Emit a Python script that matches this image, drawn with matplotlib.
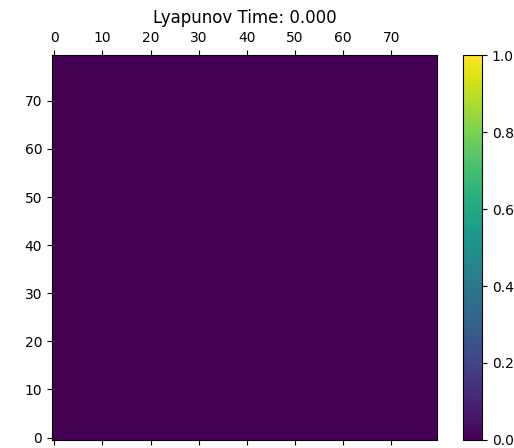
import numpy as np
import matplotlib
matplotlib.use("Agg")
import matplotlib.pyplot as plt

n_rows = 80
n_cols = 80
grid_value = 0.0
field = np.full((n_rows, n_cols), grid_value)
vmin, vmax = 0.0, 1.0
title = "Lyapunov Time: 0.000"

fig = plt.figure(figsize=(5.14, 4.48), dpi=100)
ax = fig.add_axes([0.101, 0.018, 0.749, 0.859])
im = ax.matshow(field, origin="lower", cmap="viridis", vmin=vmin, vmax=vmax, aspect="auto")
ax.set_xticks(np.arange(0, 80, 10))
ax.set_yticks(np.arange(0, 80, 10))
ax.tick_params(axis="x", top=True, bottom=True, labeltop=True, labelbottom=False)
ax.set_title(title)
cax = fig.add_axes([0.901, 0.018, 0.037, 0.859])
fig.colorbar(im, cax=cax)
fig.savefig("out.png", dpi=100)
